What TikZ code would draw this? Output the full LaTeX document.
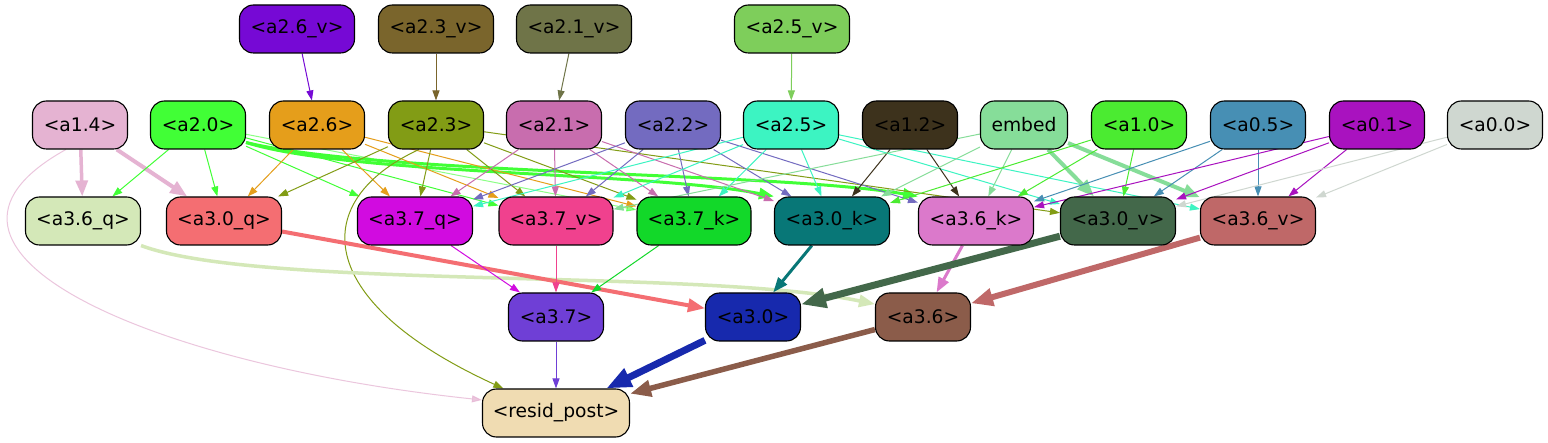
\documentclass[tikz,border=0pt]{standalone}
\usepackage{fontspec}
\setmainfont{DejaVu Sans}
\usetikzlibrary{arrows.meta}
\pgfdeclarelayer{edges}
\pgfsetlayers{edges,main}
\definecolor{c26v}{HTML}{7609D5}
\definecolor{c23v}{HTML}{7A652C}
\definecolor{c21v}{HTML}{6F7448}
\definecolor{c25v}{HTML}{7ECE5B}
\definecolor{c14}{HTML}{E5B3D2}
\definecolor{c20}{HTML}{41FF36}
\definecolor{c26}{HTML}{E59E1B}
\definecolor{c23}{HTML}{829C15}
\definecolor{c21}{HTML}{C86DAE}
\definecolor{c22}{HTML}{736BC0}
\definecolor{c25}{HTML}{3CF4C2}
\definecolor{c12}{HTML}{3D321C}
\definecolor{cemb}{HTML}{86DD99}
\definecolor{c10}{HTML}{4BEB31}
\definecolor{c05}{HTML}{478FB4}
\definecolor{c01}{HTML}{A912BF}
\definecolor{c00}{HTML}{CFD7D0}
\definecolor{c36q}{HTML}{D4E8B8}
\definecolor{c30q}{HTML}{F46E72}
\definecolor{c37q}{HTML}{D10BE0}
\definecolor{c37v}{HTML}{F0418E}
\definecolor{c37k}{HTML}{12D829}
\definecolor{c30k}{HTML}{087777}
\definecolor{c36k}{HTML}{DB79CB}
\definecolor{c30v}{HTML}{43684A}
\definecolor{c36v}{HTML}{BF6868}
\definecolor{c37}{HTML}{6F3FD6}
\definecolor{c30}{HTML}{1729AD}
\definecolor{c36}{HTML}{8B5C4A}
\definecolor{cres}{HTML}{F0DCB2}
\tikzset{
  box/.style={draw=black, line width=1.1pt, rounded corners=14pt, minimum height=48pt,
    inner sep=0pt, text=black, font=\fontsize{18.67}{22}\selectfont},
  wa/.style={minimum width=95pt},
  wb/.style={minimum width=115pt},
  t1/.style={line width=1pt, -{Triangle[length=10pt,width=7pt]}},
  t3/.style={line width=3pt, -{Triangle[length=15pt,width=11pt]}},
  t35/.style={line width=3.5pt, -{Triangle[length=16pt,width=12pt]}},
  t4/.style={line width=4pt, -{Triangle[length=17pt,width=13pt]}},
  t55/.style={line width=5.5pt, -{Triangle[length=21pt,width=16pt]}},
  t6/.style={line width=6pt, -{Triangle[length=22pt,width=17pt]}},
  t7/.style={line width=7pt, -{Triangle[length=25pt,width=19pt]}}
}
\begin{document}
\begin{tikzpicture}[x=1pt,y=-1pt]
\useasboundingbox (0,0) rectangle (1548,443);
% row 0
\node[box,wb,fill=c26v] (a26v) at (297,29) {<a2.6\_v>};
\node[box,wb,fill=c23v] (a23v) at (436,29) {<a2.3\_v>};
\node[box,wb,fill=c21v] (a21v) at (574,29) {<a2.1\_v>};
\node[box,wb,fill=c25v] (a25v) at (792,29) {<a2.5\_v>};
% row 1
\node[box,wa,fill=c14] (a14) at (80,125) {<a1.4>};
\node[box,wa,fill=c20] (a20) at (198,125) {<a2.0>};
\node[box,wa,fill=c26] (a26) at (317,125) {<a2.6>};
\node[box,wa,fill=c23] (a23) at (436,125) {<a2.3>};
\node[box,wa,fill=c21] (a21) at (554,125) {<a2.1>};
\node[box,wa,fill=c22] (a22) at (673,125) {<a2.2>};
\node[box,wa,fill=c25] (a25) at (791,125) {<a2.5>};
\node[box,wa,fill=c12] (a12) at (910,125) {<a1.2>};
\node[box,minimum width=87pt,fill=cemb] (emb) at (1024,125) {embed};
\node[box,wa,fill=c10] (a10) at (1139,125) {<a1.0>};
\node[box,wa,fill=c05] (a05) at (1258,125) {<a0.5>};
\node[box,wa,fill=c01] (a01) at (1377,125) {<a0.1>};
\node[box,wa,fill=c00] (a00) at (1495,125) {<a0.0>};
% row 2
\node[box,wb,fill=c36q] (a36q) at (83,221) {<a3.6\_q>};
\node[box,wb,fill=c30q] (a30q) at (224,221) {<a3.0\_q>};
\node[box,wb,fill=c37q] (a37q) at (415,221) {<a3.7\_q>};
\node[box,minimum width=114pt,fill=c37v] (a37v) at (556,221) {<a3.7\_v>};
\node[box,minimum width=114pt,fill=c37k] (a37k) at (694,221) {<a3.7\_k>};
\node[box,wb,fill=c30k] (a30k) at (832,221) {<a3.0\_k>};
\node[box,wb,fill=c36k] (a36k) at (976,221) {<a3.6\_k>};
\node[box,wb,fill=c30v] (a30v) at (1118,221) {<a3.0\_v>};
\node[box,wb,fill=c36v] (a36v) at (1258,221) {<a3.6\_v>};
% row 3
\node[box,wa,fill=c37] (a37) at (556,317) {<a3.7>};
\node[box,wa,fill=c30] (a30) at (753,317) {<a3.0>};
\node[box,wa,fill=c36] (a36) at (923,317) {<a3.6>};
\node[box,minimum width=147pt,fill=cres] (res) at (556,413) {<resid\_post>};
\begin{pgfonlayer}{edges}
\path[fill=white] (0,0) rectangle (1548,443);
% edges top
\draw[t1,draw=c26v] (a26v) -- (a26);
\draw[t1,draw=c23v] (a23v) -- (a23);
\draw[t1,draw=c21v] (a21v) -- (a21);
\draw[t1,draw=c25v] (a25v) -- (a25);
% a1.4
\draw[t35,draw=c14] (a14) -- (a36q);
\draw[t4,draw=c14] (a14) -- (a30q);
\draw[t1,draw=c14,opacity=.75] (a14.240) .. controls (-115,250) and (150,365) .. (res.170);
% a2.0
\draw[t1,draw=c20] (a20) -- (a36q);
\draw[t1,draw=c20] (a20) -- (a30q);
\draw[t1,draw=c20] (a20) -- (a37q);
\draw[t1,draw=c20] (a20) -- (a37v);
\draw[t1,draw=c20,opacity=.6] (a20) -- (a37k);
\draw[t3,draw=c20] (a20.-20) .. controls (350,175) and (650,172) .. (a30k.north west);
\draw[t3,draw=c20] (a20.-20) .. controls (380,175) and (780,172) .. (a36k.north west);
% a2.6
\draw[t1,draw=c26] (a26) -- (a30q);
\draw[t1,draw=c26] (a26) -- (a37q);
\draw[t1,draw=c26] (a26) -- (a37v);
\draw[t1,draw=c26] (a26) -- (a37k);
% a2.3
\draw[t1,draw=c23] (a23) -- (a30q);
\draw[t1,draw=c23] (a23) -- (a37q);
\draw[t1,draw=c23] (a23) -- (a37v);
\draw[t1,draw=c23] (a23) -- (a37k);
\draw[t1,draw=c23] (a23) -- (a30v);
\draw[t1,draw=c23] (a23.235) .. controls (310,200) and (310,300) .. (res.155);
% a2.1
\draw[t1,draw=c21] (a21) -- (a37q);
\draw[t1,draw=c21] (a21) -- (a37v);
\draw[t1,draw=c21] (a21) -- (a37k);
\draw[t1,draw=c21] (a21) -- (a30k);
% a2.2
\draw[t1,draw=c22] (a22) -- (a37q);
\draw[t1,draw=c22] (a22) -- (a37v);
\draw[t1,draw=c22] (a22) -- (a37k);
\draw[t1,draw=c22] (a22) -- (a30k);
\draw[t1,draw=c22] (a22) -- (a36k);
% a2.5
\draw[t1,draw=c25] (a25) -- (a37q);
\draw[t1,draw=c25] (a25) -- (a37v);
\draw[t1,draw=c25] (a25) -- (a37k);
\draw[t1,draw=c25] (a25) -- (a30k);
\draw[t1,draw=c25] (a25) -- (a30v);
\draw[t1,draw=c25] (a25) -- (a36v);
% a1.2
\draw[t1,draw=c12] (a12) -- (a30k);
\draw[t1,draw=c12] (a12) -- (a36k);
% embed
\draw[t1,draw=cemb] (emb) -- (a37v);
\draw[t1,draw=cemb] (emb) -- (a30k);
\draw[t1,draw=cemb] (emb) -- (a36k);
\draw[t4,draw=cemb] (emb) -- (a30v);
\draw[t4,draw=cemb] (emb) -- (a36v);
% a1.0
\draw[t1,draw=c10] (a10) -- (a30k);
\draw[t1,draw=c10] (a10) -- (a36k);
\draw[t1,draw=c10] (a10) -- (a30v);
% a0.5
\draw[t1,draw=c05] (a05) -- (a36k);
\draw[t1,draw=c05] (a05) -- (a30v);
\draw[t1,draw=c05] (a05) -- (a36v);
% a0.1
\draw[t1,draw=c01] (a01) -- (a36k);
\draw[t1,draw=c01] (a01) -- (a30v);
\draw[t1,draw=c01] (a01) -- (a36v);
% a0.0
\draw[t1,draw=c00] (a00) -- (a30v);
\draw[t1,draw=c00] (a00) -- (a36v);
% row 2 -> row 3
\draw[t35,draw=c36q] (a36q.south east) .. controls (260,290) and (700,268) .. (a36.165);
\draw[t4,draw=c30q] (a30q) -- (a30);
\draw[t1,draw=c37q] (a37q) -- (a37);
\draw[t1,draw=c37v] (a37v) -- (a37);
\draw[t1,draw=c37k] (a37k) -- (a37);
\draw[t3,draw=c30k] (a30k) -- (a30);
\draw[t3,draw=c36k] (a36k) -- (a36);
\draw[t7,draw=c30v] (a30v) -- (a30);
\draw[t6,draw=c36v] (a36v) -- (a36);
% row 3 -> resid
\draw[t1,draw=c37] (a37) -- (res);
\draw[t7,draw=c30] (a30) -- (res);
\draw[t55,draw=c36] (a36) -- (res);
\end{pgfonlayer}
\end{tikzpicture}
\end{document}
